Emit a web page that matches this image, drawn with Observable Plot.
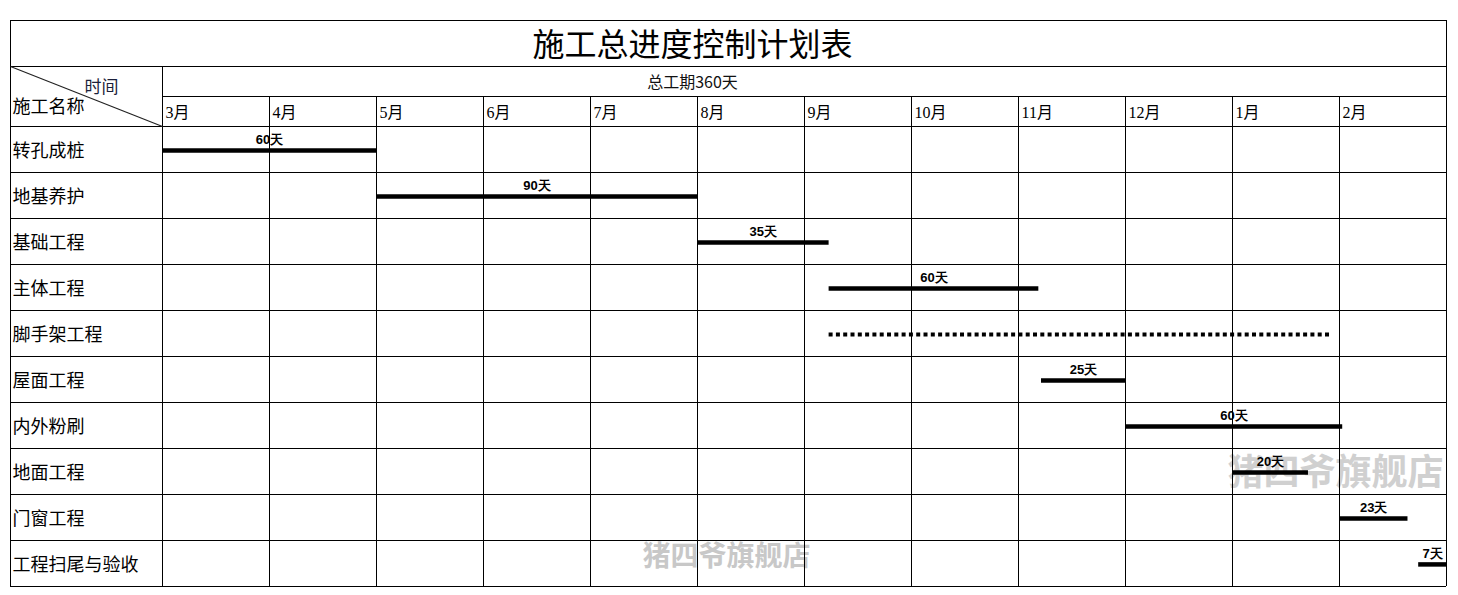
<!DOCTYPE html>
<html>
<head>
<meta charset="utf-8">
<script src="https://cdn.jsdelivr.net/npm/d3@7"></script>
<script src="https://cdn.jsdelivr.net/npm/@observablehq/plot@0.6"></script>
<style>
  html, body { margin: 0; padding: 0; background: #fff; }
  svg { display: block; }
</style>
</head>
<body>
<script>
// ---- data ----
const chartTitle = "施工总进度控制计划表";
const totalLabel = "总工期360天";
const months = ["3月","4月","5月","6月","7月","8月","9月","10月","11月","12月","1月","2月"];
const tasks = ["转孔成桩","地基养护","基础工程","主体工程","脚手架工程","屋面工程","内外粉刷","地面工程","门窗工程","工程扫尾与验收"];
// start / end in months from the beginning of March
const starts = [0, 2, 5, 6.23, 6.23, 8.215, 9, 10, 11, 11.74];
const ends   = [2, 5, 6.23, 8.19, 10.93, 9, 11.03, 10.71, 11.64, 12];
const durations = ["60天","90天","35天","60天","","25天","60天","20天","23天","7天"];
const dottedTasks = ["脚手架工程"];
const watermark = "猪四爷旗舰店";

// ---- layout (row units: 1 task row = 46px; month units: 1 column = 107px) ----
const leftEdge = -152 / 107;     // left border of table
const titleTop = -106 / 46;
const headTop = -60 / 46;
const monthTop = -30 / 46;
const nRows = tasks.length;
const nCols = months.length;
const headCenter = (692 - 162) / 107;

const bars = tasks.map((t, i) => ({task: t, start: starts[i], end: ends[i], label: durations[i], row: i + 0.52}));

const hLines = [
  {y: titleTop, x1: leftEdge, x2: nCols},
  {y: headTop, x1: leftEdge, x2: nCols},
  {y: monthTop, x1: 0, x2: nCols},
  ...d3.range(nRows + 1).map(r => ({y: r, x1: leftEdge, x2: nCols}))
];
const vLines = [
  {x: leftEdge, y1: titleTop, y2: nRows},
  {x: nCols, y1: titleTop, y2: nRows},
  {x: 0, y1: headTop, y2: nRows},
  ...d3.range(1, nCols).map(c => ({x: c, y1: monthTop, y2: nRows}))
];

const serif = "'Liberation Serif', 'Noto Sans CJK SC', serif";
const cjk = "'Noto Sans CJK SC', sans-serif";

const chart = Plot.plot({
  width: 1458,
  height: 595,
  marginLeft: 162,
  marginRight: 12,
  marginTop: 126,
  marginBottom: 9,
  x: {type: "linear", domain: [0, nCols], axis: null},
  y: {type: "linear", domain: [0, nRows], reverse: true, axis: null},
  style: {background: "#fff", fontFamily: cjk, color: "#000"},
  marks: [
    // watermarks
    Plot.text([watermark], {x: [(726 - 162) / 107], y: [(557 - 126) / 46], text: d => d, fontSize: 28, fontWeight: "bold", fill: "#c8c8c8", fontFamily: cjk}),
    Plot.text([watermark], {x: [(1335 - 162) / 107], y: [(473 - 126) / 46], text: d => d, fontSize: 36, fontWeight: "bold", fill: "#d0d0d0", fontFamily: cjk}),
    // grid
    Plot.ruleY(hLines, {y: "y", x1: "x1", x2: "x2", stroke: "#000", strokeWidth: 1}),
    Plot.ruleX(vLines, {x: "x", y1: "y1", y2: "y2", stroke: "#000", strokeWidth: 1}),
    Plot.link([0], {x1: leftEdge, y1: headTop, x2: 0, y2: 0, stroke: "#222", strokeWidth: 1.2}),
    // title
    Plot.text([chartTitle], {x: headCenter, y: (45 - 126) / 46, text: d => d, fontSize: 32, fill: "#000", fontFamily: cjk}),
    Plot.text([totalLabel], {x: headCenter, y: (82 - 126) / 46, text: d => d, fontSize: 16, fill: "#111", fontFamily: cjk}),
    // corner header
    Plot.text(["时间"], {x: (101 - 162) / 107, y: (87 - 126) / 46, text: d => d, fontSize: 17, fill: "#1b1f3a", fontFamily: serif}),
    Plot.text(["施工名称"], {x: (12 - 162) / 107, y: (107 - 126) / 46, text: d => d, textAnchor: "start", fontSize: 18, fill: "#000", fontFamily: serif}),
    // month labels
    Plot.text(months, {x: (d, i) => i + 3 / 107, y: (112 - 126) / 46, text: d => d, textAnchor: "start", fontSize: 16, fill: "#000", fontFamily: serif}),
    // task names
    Plot.text(tasks, {x: (12 - 162) / 107, y: (d, i) => i + 0.54, text: d => d, textAnchor: "start", fontSize: 18, fill: "#000", fontFamily: serif}),
    // bars
    Plot.ruleY(bars.filter(d => !dottedTasks.includes(d.task)), {y: "row", x1: "start", x2: "end", stroke: "#000", strokeWidth: 4.5}),
    Plot.ruleY(bars.filter(d => dottedTasks.includes(d.task)), {y: "row", x1: "start", x2: "end", stroke: "#000", strokeWidth: 4, strokeDasharray: "4,3.3"}),
    // duration labels
    Plot.text(bars.filter(d => d.label), {x: d => (d.start + d.end) / 2, y: "row", text: "label", dy: -11, fontSize: 13, fontWeight: "bold", fill: "#000", fontFamily: "'Liberation Sans', Arial, sans-serif"})
  ]
});
document.body.appendChild(chart);
</script>
</body>
</html>
